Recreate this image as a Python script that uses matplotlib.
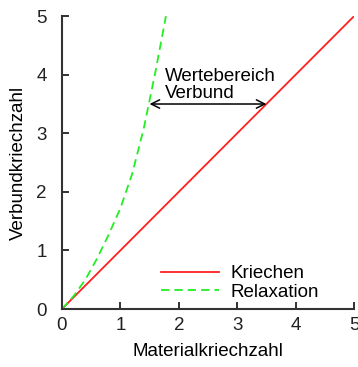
import matplotlib
matplotlib.use('Agg')
import matplotlib.pyplot as plt

plt.rcParams['font.family'] = ['Liberation Sans', 'DejaVu Sans']

# Werte
kriechen_x = [0, 5]
kriechen_y = [0, 5]
relax_x = [0, 0.2, 0.4, 0.6, 0.8, 1.0, 1.2, 1.4, 1.6, 1.78]
relax_y = [0, 0.22, 0.5, 0.86, 1.27, 1.72, 2.3, 3.08, 4.05, 5.0]
ticks = [0, 1, 2, 3, 4, 5]
arrow_y = 3.5
arrow_x = (1.5, 3.5)

fs = 13.5
fig = plt.figure(figsize=(3.58, 3.67), dpi=100)
ax = fig.add_axes([0.173, 0.158, 0.816, 0.798])

ax.plot(kriechen_x, kriechen_y, color='#ff2020', lw=1.3, label='Kriechen')
ax.plot(relax_x, relax_y, color='#22ee22', lw=1.3, ls=(0, (4.6, 2.8)), label='Relaxation')

ax.annotate('', xy=(arrow_x[0], arrow_y), xytext=(arrow_x[1], arrow_y),
            arrowprops=dict(arrowstyle='<->', color='black', lw=1.1,
                            mutation_scale=15, shrinkA=0, shrinkB=0))
ax.text(1.76, 3.53, 'Wertebereich\nVerbund', fontsize=fs, va='bottom', ha='left',
        linespacing=1.05)

ax.set_xlim(0, 5)
ax.set_ylim(0, 5)
ax.set_xticks(ticks)
ax.set_yticks(ticks)
ax.tick_params(direction='in', length=5, width=1.3, labelsize=fs, colors='#222222')
ax.tick_params(axis='x', pad=6)
ax.tick_params(axis='y', pad=11)
for s in ['top', 'right']:
    ax.spines[s].set_visible(False)
for s in ['left', 'bottom']:
    ax.spines[s].set_linewidth(1.5)
    ax.spines[s].set_color('#333333')

ax.set_xlabel('Materialkriechzahl', fontsize=fs, labelpad=6)
ax.set_ylabel('Verbundkriechzahl', fontsize=fs, labelpad=7)

leg = ax.legend(loc='center left', bbox_to_anchor=(0.338, 0.089), frameon=False, fontsize=fs,
                handlelength=3.1, handletextpad=0.62, labelspacing=0.05,
                borderpad=0, borderaxespad=0)

fig.savefig('out.png', dpi=100)
